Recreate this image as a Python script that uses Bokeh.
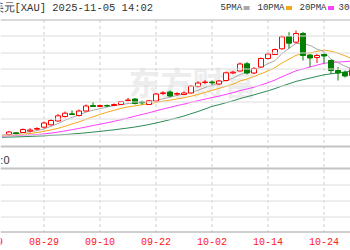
from bokeh.plotting import figure
from bokeh.models import Range1d, ColumnDataSource, Span
from bokeh.core.properties import value
from bokeh.embed import file_html
from bokeh.resources import INLINE

# ---------------- data ----------------
dates = ["08-19", "08-20", "08-21", "08-22", "08-25", "08-26", "08-27", "08-28", "08-29",
         "09-01", "09-02", "09-03", "09-04", "09-05", "09-08", "09-09", "09-10", "09-11", "09-12",
         "09-15", "09-16", "09-17", "09-18", "09-19", "09-22", "09-23", "09-24", "09-25", "09-26",
         "09-29", "09-30", "10-01", "10-02", "10-03", "10-06", "10-07", "10-08", "10-09", "10-10",
         "10-13", "10-14", "10-15", "10-16", "10-17", "10-20", "10-21", "10-22", "10-23", "10-24",
         "10-27", "10-28", "10-29", "10-30"]

tick_labels = ["08-19", "08-29", "09-10", "09-22", "10-02", "10-14", "10-24"]

# candles from 08-22
candle_start = "08-22"
open_ = [3350, 3367, 3370, 3385, 3403, 3423, 3447, 3485, 3530, 3557,
         3540, 3585, 3640, 3630, 3640, 3640, 3650, 3690, 3705, 3675,
         3650, 3685, 3760, 3775, 3753, 3750, 3765, 3830, 3870, 3875,
         3855, 3890, 3965, 3985, 4057, 3965, 4025, 4110, 4150, 4207,
         4330, 4273, 4360, 4145, 4120, 4150, 4090, 3990, 3970, 3940]
close = [3375, 3360, 3400, 3395, 3410, 3465, 3490, 3537, 3563, 3550,
         3585, 3635, 3630, 3640, 3635, 3650, 3680, 3695, 3660, 3667,
         3687, 3755, 3767, 3735, 3760, 3765, 3835, 3865, 3875, 3867,
         3885, 3967, 3973, 4055, 3965, 4010, 4110, 4155, 4200, 4327,
         4263, 4360, 4140, 4115, 4140, 4135, 3990, 3965, 3935, 4010]
high = [3385, 3375, 3410, 3413, 3423, 3480, 3505, 3555, 3580, 3590,
        3600, 3650, 3675, 3647, 3650, 3660, 3685, 3715, 3715, 3687,
        3695, 3765, 3783, 3790, 3773, 3780, 3845, 3883, 3895, 3890,
        3895, 3980, 3987, 4070, 4075, 4025, 4120, 4170, 4210, 4340,
        4373, 4390, 4375, 4155, 4155, 4165, 4100, 4025, 3990, 4030]
low = [3340, 3350, 3365, 3370, 3395, 3410, 3440, 3480, 3520, 3545,
       3530, 3580, 3625, 3623, 3625, 3635, 3645, 3680, 3650, 3650,
       3645, 3680, 3745, 3725, 3740, 3745, 3760, 3820, 3855, 3845,
       3845, 3880, 3955, 3980, 3950, 3955, 4020, 4100, 4145, 4200,
       4210, 4260, 4090, 4025, 4065, 4060, 3955, 3890, 3920, 3930]

# moving averages from 08-21
ma_start = "08-21"
ma5 = [3345, 3352, 3358, 3368, 3378, 3388, 3406, 3432, 3459, 3493, 3521, 3545, 3574, 3593, 3608,
       3625, 3638, 3647, 3660, 3664, 3670, 3678, 3693, 3707, 3722, 3741, 3756, 3772, 3792, 3820,
       3841, 3865, 3892, 3913, 3949, 3969, 3994, 4023, 4059, 4088, 4160, 4211, 4261, 4258, 4241,
       4204, 4178, 4104, 4069, 4033, 4007]
ma10 = [3340, 3344, 3348, 3353, 3360, 3370, 3382, 3396, 3412, 3432,
        3455, 3476, 3503, 3526, 3551, 3573, 3592, 3611, 3626, 3636, 3648, 3658, 3670, 3684, 3693,
        3706, 3717, 3733, 3750, 3771, 3791, 3811, 3832, 3853, 3885, 3905, 3930, 3957, 3986, 4019,
        4065, 4103, 4142, 4159, 4165, 4182, 4195, 4183, 4164, 4137, 4105]
ma20 = [3335, 3338, 3340, 3343, 3346, 3350, 3356, 3364, 3374, 3386,
        3398, 3411, 3425, 3440, 3453, 3467, 3482, 3498, 3515, 3533,
        3551, 3567, 3587, 3605, 3622, 3639, 3654, 3672, 3688, 3704,
        3719, 3734, 3751, 3768, 3789, 3805, 3823, 3845, 3868, 3895,
        3928, 3957, 3987, 4006, 4025, 4044, 4062, 4070, 4075, 4078, 4085]
ma30 = [3322, 3324, 3326, 3328, 3331, 3334, 3337, 3341, 3345, 3350,
        3355, 3361, 3367, 3374, 3381, 3389, 3397, 3406, 3415, 3425,
        3437, 3450, 3465, 3481, 3498, 3516, 3535, 3558, 3580, 3605,
        3631, 3648, 3668, 3687, 3709, 3728, 3746, 3767, 3787, 3809,
        3835, 3857, 3881, 3898, 3914, 3931, 3947, 3957, 3966, 3976, 3987]

ma_names = ["5PMA", "10PMA", "20PMA", "30PMA"]
ma_colors = ["#a8a8a8", "#f5a81c", "#ff40ff", "#2e8b57"]

title_text = "美元[XAU] 2025-11-05 14:02"
vol_text = ":0"

# ---------------- layout helpers ----------------
W, H = 350, 250
STEP = 7.0            # px per trading day
X_REF_PX = 43.5       # pixel x of 08-29
PRICE_TOP = 4690.0    # price at top pixel row
PER_PX = 10.0         # price units per pixel

i_ref = dates.index("08-29")
x_start = i_ref - X_REF_PX / STEP
x_end = x_start + W / STEP
y_end = PRICE_TOP
y_start = PRICE_TOP - H * PER_PX


def px_x(px):
    return x_start + px / STEP


def px_y(py):
    return PRICE_TOP - py * PER_PX


p = figure(width=W, height=H, x_range=Range1d(x_start, x_end), y_range=Range1d(y_start, y_end),
           output_backend="svg", toolbar_location=None, min_border=0,
           x_axis_location=None, y_axis_location=None)
p.grid.visible = False
p.outline_line_color = None
p.background_fill_color = "white"
p.border_fill_color = "white"

# horizontal rules (main panel, separator strip, volume panel)
grid_main = [35.5, 52.5, 68.5, 85.5, 101.5, 118.5, 134.5]
for py in grid_main:
    p.add_layout(Span(location=px_y(py), dimension="width", line_color="#dcdcdc", line_width=1))
for py in [184.5, 200.5, 216.5]:
    p.add_layout(Span(location=px_y(py), dimension="width", line_color="#dcdcdc", line_width=1))
p.add_layout(Span(location=px_y(19.5), dimension="width", line_color="#b4b4b4", line_width=1))
p.add_layout(Span(location=px_y(146), dimension="width", line_color="#c4c4c4", line_width=2))
p.add_layout(Span(location=px_y(168), dimension="width", line_color="#c4c4c4", line_width=2))
p.add_layout(Span(location=px_y(231.5), dimension="width", line_color="#a0a0a0", line_width=1))

# vertical dashed date grid
tick_x = [dates.index(d) for d in tick_labels]
p.segment(x0=tick_x, y0=[px_y(19.5)] * len(tick_x), x1=tick_x, y1=[px_y(231.5)] * len(tick_x),
          line_color="#cfcfcf", line_width=1, line_dash="3 3")

# watermark
p.text(x=[px_x(128)], y=[px_y(80)], text=["东方财富"], text_font=value("Noto Sans CJK SC"),
       text_font_size=value("32px"), text_font_style="bold", text_color="#ededed",
       text_baseline="middle", text_align="left")

# moving averages
ci = dates.index(ma_start)
ma_x = list(range(ci, ci + len(ma5)))
for arr, col in zip([ma30, ma20, ma10, ma5], [ma_colors[3], ma_colors[2], ma_colors[1], ma_colors[0]]):
    p.line(ma_x, arr, line_color=col, line_width=1)

# candles
cs = dates.index(candle_start)
cx = list(range(cs, cs + len(open_)))
up = [c >= o for o, c in zip(open_, close)]
src = ColumnDataSource(dict(
    x=cx, high=high, low=low,
    top=[max(o, c) for o, c in zip(open_, close)],
    bottom=[min(o, c) for o, c in zip(open_, close)],
    line=["#ff0000" if u else "#008000" for u in up],
    fill=["#ffffff" if u else "#008000" for u in up],
))
p.segment(x0="x", y0="high", x1="x", y1="low", line_color="line", line_width=1, source=src)
p.vbar(x="x", width=5.0 / STEP, top="top", bottom="bottom", fill_color="fill",
       line_color="line", line_width=1, source=src)

# title + legend strip
p.text(x=[px_x(-8)], y=[px_y(7.5)], text=[title_text], text_font=value("Liberation Mono"),
       text_font_size=value("10.5px"), text_color="#333333", text_baseline="middle", text_align="left")
leg_x = [220, 257, 299, 338]
for name, col, lx in zip(ma_names, ma_colors, leg_x):
    p.text(x=[px_x(lx)], y=[px_y(7.5)], text=[name], text_font=value("Liberation Mono"),
           text_font_size=value("9px"), text_color="#333333", text_baseline="middle", text_align="left")
    sx = lx + len(name) * 5.4 + 4.5
    p.rect(x=[px_x(sx)], y=[px_y(7.5)], width=6 / STEP, height=4 * PER_PX,
           fill_color=col, line_color=None)

# volume strip label
p.text(x=[px_x(9)], y=[px_y(159.5)], text=[vol_text], text_font=value("Liberation Sans"),
       text_font_size=value("11px"), text_color="#333333", text_baseline="middle", text_align="right")

# date labels
p.text(x=tick_x, y=[px_y(240.5)] * len(tick_x), text=tick_labels, text_font=value("Liberation Mono"),
       text_font_size=value("10px"), text_color="#ff2020", text_baseline="middle", text_align="center")

open("out.html", "w").write(file_html(p, INLINE))
